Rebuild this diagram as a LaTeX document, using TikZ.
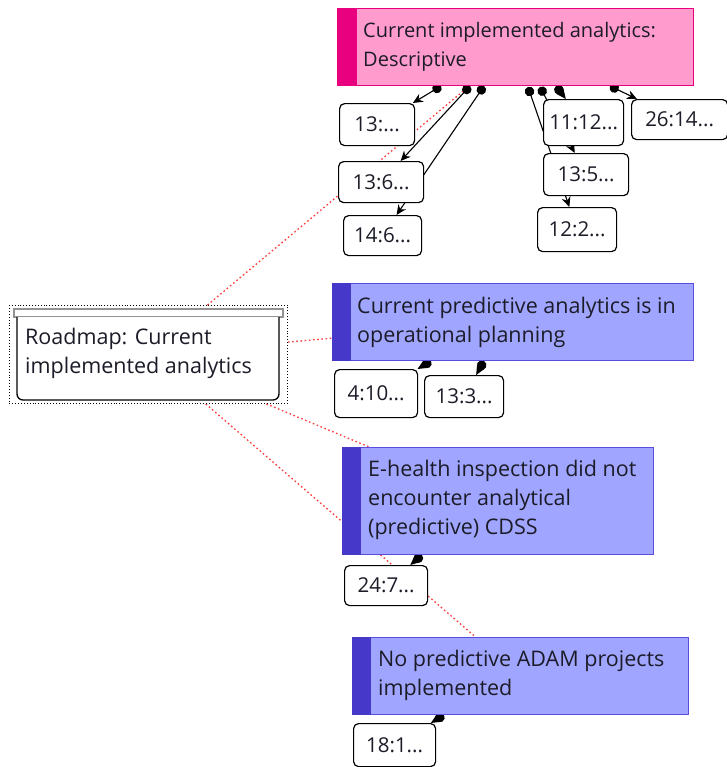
\documentclass[tikz,border=0pt]{standalone}
\usepackage{fontspec}
\setmainfont{Open Sans}
\usetikzlibrary{arrows.meta,calc}
\pgfdeclarelayer{bg}
\pgfsetlayers{bg,main}

\definecolor{pinkfill}{HTML}{FF9BCD}
\definecolor{pinkbar}{HTML}{E8007F}
\definecolor{bluefill}{HTML}{A0A6FF}
\definecolor{bluebar}{HTML}{4638C8}
\definecolor{blueedge}{HTML}{5A4CE0}
\definecolor{linkred}{HTML}{FF3B3B}
\definecolor{ink}{HTML}{1C1C28}

\tikzset{
  big/.style={rectangle, draw, line width=1.2bp, inner sep=0pt, anchor=north west},
  pinkquote/.style={big, draw=pinkbar, fill=pinkfill},
  bluequote/.style={big, draw=blueedge, fill=bluefill},
  % multi-line labels are placed by the baseline of their last line
  label/.style={anchor=base west, inner sep=0pt, align=left, text=ink,
    font=\fontsize{21.5bp}{29bp}\selectfont},
  card/.style={rectangle, draw, line width=1.2bp, rounded corners=5bp, fill=white,
    inner sep=0pt, anchor=north west, text=ink, font=\fontsize{20.5bp}{24bp}\selectfont},
  link/.style={draw, line width=1.1bp, {Circle[length=9.5bp]}-{Stealth[length=10bp,width=9bp]}},
  relation/.style={draw=linkred, line width=1.3bp, dash pattern=on 1.6bp off 2.6bp},
}

\begin{document}
\begin{tikzpicture}[x=1bp,y=-1bp]
\useasboundingbox (0,0) rectangle (727,767);

% ---- roadmap node ----
\node[big, draw=black, line width=0.9bp, dotted, minimum width=278bp, minimum height=98bp] (rm) at (9,305) {};
\draw[draw=gray!85, fill=white, line width=1.6bp] (14,309) rectangle (283,317);
\draw[line width=1.3bp, fill=white, rounded corners=6bp] (17,317) -- (17,400) -- (279,400) -- (279,317);
\node[label] (rm-t) at (25,373) {Roadmap: Current\\implemented analytics};

% ---- pink quotation ----
\node[pinkquote, minimum width=356bp, minimum height=77bp] (cur) at (337,8) {};
\fill[pinkbar] (cur.north west) rectangle ($(cur.south west)+(20,0)$);
\node[label, font=\fontsize{20bp}{29bp}\selectfont] (cur-t) at (363,67) {Current implemented analytics:\\Descriptive};

% ---- blue quotations ----
\node[bluequote, minimum width=361bp, minimum height=77bp] (pred) at (332,283) {};
\fill[bluebar] (pred.north west) rectangle ($(pred.south west)+(19,0)$);
\node[label] (pred-t) at (357,342) {Current predictive analytics is in\\operational planning};

\node[bluequote, minimum width=311bp, minimum height=107bp] (eh) at (342,447) {};
\fill[bluebar] (eh.north west) rectangle ($(eh.south west)+(19,0)$);
\node[label] (eh-t) at (368,534) {E-health inspection did not\\encounter analytical\\(predictive) CDSS};

\node[bluequote, minimum width=336bp, minimum height=77bp] (adam) at (352,637) {};
\fill[bluebar] (adam.north west) rectangle ($(adam.south west)+(19,0)$);
\node[label] (adam-t) at (378,695) {No predictive ADAM projects\\implemented};

% ---- small quotation cards ----
\node[card, minimum width=75bp, minimum height=42bp] (q1) at (339,103) {13:...};
\node[card, minimum width=85bp, minimum height=41bp] (q2) at (338,161) {13:6...};
\node[card, minimum width=78bp, minimum height=40bp] (q3) at (343,215) {14:6...};
\node[card, minimum width=80bp, minimum height=46bp] (q4) at (543,99) {11:12...};
\node[card, minimum width=96bp, minimum height=40bp] (q5) at (631,99) {26:14...};
\node[card, minimum width=85bp, minimum height=42bp] (q6) at (543,153) {13:5...};
\node[card, minimum width=79bp, minimum height=44bp] (q7) at (537,207) {12:2...};

\node[card, minimum width=83bp, minimum height=48bp] (r1) at (334,369) {4:10...};
\node[card, minimum width=79bp, minimum height=42bp] (r2) at (424,375) {13:3...};

\node[card, minimum width=83bp, minimum height=40bp] (s1) at (344,565) {24:7...};
\node[card, minimum width=82bp, minimum height=43bp] (t1) at (353,723) {18:1...};

% ---- start points of the links ----
\coordinate (a1) at (441,86);
\coordinate (a2) at (470,86);
\coordinate (a3) at (484,86);
\coordinate (a4) at (528,87);
\coordinate (a5) at (540,87);
\coordinate (a6) at (556,86);
\coordinate (a7) at (610,86);
\coordinate (b1) at (431,361);
\coordinate (b2) at (484,361);
\coordinate (c1) at (422,555);
\coordinate (e1) at (444,715);

\begin{pgfonlayer}{bg}
  % relations of the roadmap
  \draw[relation] (rm) -- (cur);
  \draw[relation] (rm) -- (pred);
  \draw[relation] (rm) -- (eh);
  \draw[relation] (rm) -- (adam);
  % quotation links
  \draw[link] (a1) -- (q1);
  \draw[link] (a2) -- (q2);
  \draw[link] (a3) -- (q3);
  \draw[link] (a4) -- (q7);
  \draw[link] (a5) -- (q6);
  \draw[link] (a6) -- (q4);
  \draw[link] (a7) -- (q5);
  \draw[link] (b1) -- (r1);
  \draw[link] (b2) -- (r2);
  \draw[link] (c1) -- (s1);
  \draw[link] (e1) -- (t1);
\end{pgfonlayer}
\end{tikzpicture}
\end{document}
